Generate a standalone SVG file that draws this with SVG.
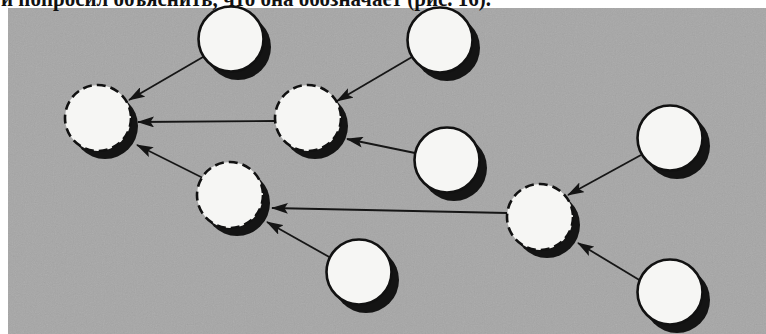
<svg xmlns="http://www.w3.org/2000/svg" width="766" height="334" viewBox="0 0 766 334">
<style>
.node circle.face{fill:#f6f6f4;stroke:#111;stroke-width:2.6}
.node circle.dash{stroke-dasharray:9 5}
.node circle.shadow{fill:#141414}
.conn line{stroke:#161616;stroke-width:1.8;marker-end:url(#ah)}
.cap{font-family:"Liberation Serif","Times New Roman",serif;font-weight:bold;font-size:23px;fill:#111}
</style>
<defs>
<marker id="ah" markerWidth="18" markerHeight="11" refX="16" refY="5.5" orient="auto" markerUnits="userSpaceOnUse">
<path d="M0,0 L17,5.5 L0,11 L3.5,5.5 Z" fill="#141414"/>
</marker>
<filter id="noise" x="0" y="0" width="100%" height="100%">
<feTurbulence type="fractalNoise" baseFrequency="0.9" numOctaves="2" seed="3" result="t"/>
<feColorMatrix type="saturate" values="0"/>
<feComponentTransfer><feFuncA type="linear" slope="0.18"/></feComponentTransfer>
<feComposite in2="SourceGraphic" operator="in"/>
</filter>
</defs>
<rect width="766" height="334" fill="#ffffff"/>
<rect x="8" y="8" width="758" height="326" fill="#a6a6a6"/>
<rect x="8" y="8" width="758" height="326" fill="#a6a6a6" filter="url(#noise)"/>
<text class="cap" x="1" y="6" textLength="490" lengthAdjust="spacingAndGlyphs">и попросил объяснить, что она обозначает (рис. 16).</text>
<g id="connectors" class="conn">
<line x1="203" y1="57" x2="129" y2="100"/>
<line x1="412" y1="57" x2="337" y2="101"/>
<line x1="275" y1="121" x2="138" y2="122"/>
<line x1="415" y1="153" x2="347" y2="139"/>
<line x1="203" y1="178" x2="137" y2="145"/>
<line x1="507" y1="213" x2="272" y2="208"/>
<line x1="331" y1="258" x2="267" y2="222"/>
<line x1="641" y1="155" x2="568" y2="195"/>
<line x1="641" y1="281" x2="578" y2="243"/>
</g>
<g id="n1" class="node"><circle class="shadow" cx="238" cy="47" r="33"/><circle class="face" cx="231" cy="39" r="32.5"/></g>
<g id="n2" class="node"><circle class="shadow" cx="447" cy="48" r="33"/><circle class="face" cx="440" cy="40" r="32.5"/></g>
<g id="n3" class="node"><circle class="shadow" cx="105" cy="126" r="33"/><circle class="face dash" cx="98" cy="118" r="33"/></g>
<g id="n4" class="node"><circle class="shadow" cx="315" cy="126" r="33"/><circle class="face dash" cx="308" cy="118" r="33"/></g>
<g id="n5" class="node"><circle class="shadow" cx="454" cy="168" r="33"/><circle class="face" cx="447" cy="160" r="32.5"/></g>
<g id="n6" class="node"><circle class="shadow" cx="237" cy="203" r="33"/><circle class="face dash" cx="230" cy="195" r="33"/></g>
<g id="n7" class="node"><circle class="shadow" cx="677" cy="146" r="33"/><circle class="face" cx="670" cy="138" r="32.5"/></g>
<g id="n8" class="node"><circle class="shadow" cx="547" cy="225" r="33"/><circle class="face dash" cx="540" cy="217" r="33"/></g>
<g id="n9" class="node"><circle class="shadow" cx="366" cy="280" r="33"/><circle class="face" cx="359" cy="272" r="32.5"/></g>
<g id="n10" class="node"><circle class="shadow" cx="677" cy="300" r="33"/><circle class="face" cx="670" cy="292" r="32.5"/></g>
</svg>
